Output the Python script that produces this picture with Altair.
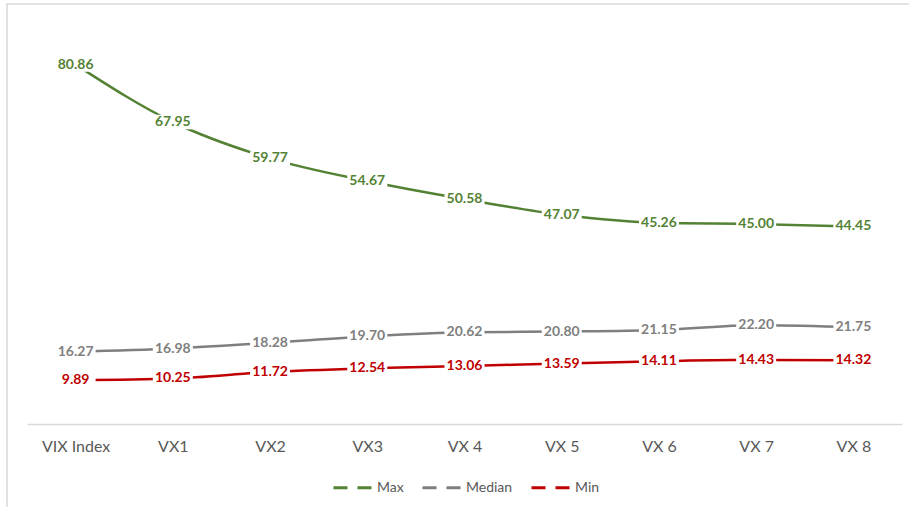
import altair as alt
import pandas as pd

categories = ["VIX Index", "VX1", "VX2", "VX3", "VX 4", "VX 5", "VX 6", "VX 7", "VX 8"]
series_names = ["Max", "Median", "Min"]
max_vals = [80.86, 67.95, 59.77, 54.67, 50.58, 47.07, 45.26, 45.00, 44.45]
median_vals = [16.27, 16.98, 18.28, 19.70, 20.62, 20.80, 21.15, 22.20, 21.75]
min_vals = [9.89, 10.25, 11.72, 12.54, 13.06, 13.59, 14.11, 14.43, 14.32]
colors = ["#548235", "#7f7f7f", "#c00000"]

rows = []
for name, vals in zip(series_names, [max_vals, median_vals, min_vals]):
    for i, (c, v) in enumerate(zip(categories, vals)):
        rows.append({"cat": c, "series": name, "value": v, "order": i,
                     "label": f"{v:.2f}"})
df = pd.DataFrame(rows)

FONT = "Lato"

x_enc = alt.X("cat:N", sort=categories, title=None,
              scale=alt.Scale(type="point", padding=0.5),
              axis=alt.Axis(labelAngle=0, ticks=False, domainColor="#d9d9d9",
                            domainWidth=1.5, labelColor="#595959", labelFontSize=16,
                            labelFont=FONT, labelPadding=14, grid=False))
y_enc = alt.Y("value:Q", scale=alt.Scale(domain=[0, 90], nice=False), axis=None)
color_enc = alt.Color("series:N", scale=alt.Scale(domain=series_names, range=colors),
                      legend=alt.Legend(title=None, orient="none", direction="horizontal",
                                        legendX=305, legendY=442,
                                        symbolType="stroke", symbolSize=1600,
                                        symbolStrokeWidth=3, symbolDash=[14, 10],
                                        labelFont=FONT, labelFontSize=14,
                                        labelColor="#595959", columnPadding=12,
                                        labelOffset=2))

base = alt.Chart(df)

border = alt.Chart(pd.DataFrame({"a": [0]})).mark_rect(
    fill="transparent", stroke="#d9d9d9", strokeWidth=1.5, clip=False
).encode(x=alt.value(-20), x2=alt.value(920), y=alt.value(-20), y2=alt.value(520))

lines = base.mark_line(strokeWidth=2.5, interpolate="monotone").encode(
    x=x_enc, y=y_enc, color=color_enc, order="order:Q")

bgs = base.mark_point(shape="M-1,-0.36L1,-0.36L1,0.36L-1,0.36Z", filled=True,
                      fill="white", opacity=1, size=1600, strokeWidth=0).encode(
    x=x_enc, y=y_enc)

texts = base.mark_text(font=FONT, fontSize=14, fontWeight="bold").encode(
    x=x_enc, y=y_enc, text="label:N",
    color=alt.Color("series:N", scale=alt.Scale(domain=series_names, range=colors),
                    legend=None))

chart = alt.layer(border, lines, bgs, texts).properties(
    width=875, height=400,
    padding={"left": 27, "top": 24, "right": 7, "bottom": 83},
    autosize=alt.AutoSizeParams(type="none"),
).configure(background="white").configure_view(stroke=None)

chart.save("out.html", embed_options={"renderer": "svg", "actions": False})
